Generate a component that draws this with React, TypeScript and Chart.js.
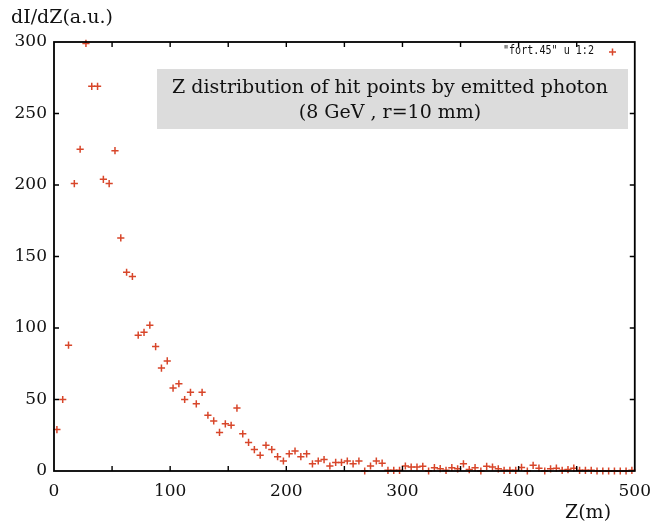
import React, { useEffect, useRef } from "react";
import { Chart, registerables } from "chart.js";

Chart.register(...registerables);

const zPositions = [
  2.5, 7.5, 12.5, 17.5, 22.5, 27.5, 32.5, 37.5, 42.5, 47.5,
  52.5, 57.5, 62.5, 67.5, 72.5, 77.5, 82.5, 87.5, 92.5, 97.5,
  102.5, 107.5, 112.5, 117.5, 122.5, 127.5, 132.5, 137.5, 142.5, 147.5,
  152.5, 157.5, 162.5, 167.5, 172.5, 177.5, 182.5, 187.5, 192.5, 197.5,
  202.5, 207.5, 212.5, 217.5, 222.5, 227.5, 232.5, 237.5, 242.5, 247.5,
  252.5, 257.5, 262.5, 267.5, 272.5, 277.5, 282.5, 287.5, 292.5, 297.5,
  302.5, 307.5, 312.5, 317.5, 322.5, 327.5, 332.5, 337.5, 342.5, 347.5,
  352.5, 357.5, 362.5, 367.5, 372.5, 377.5, 382.5, 387.5, 392.5, 397.5,
  402.5, 407.5, 412.5, 417.5, 422.5, 427.5, 432.5, 437.5, 442.5, 447.5,
  452.5, 457.5, 462.5, 467.5, 472.5, 477.5, 482.5, 487.5, 492.5, 497.5,
];

const intensity = [
  29, 50, 88, 201, 225, 299, 269, 269, 204, 201,
  224, 163, 139, 136, 95, 97, 102, 87, 72, 77,
  58, 61, 50, 55, 47, 55, 39, 35, 27, 33,
  32, 44, 26, 20, 15, 11, 18, 15, 10, 7,
  12, 14, 10, 12, 5, 7, 8, 3.5, 6, 6,
  7, 5, 7, 0, 3.5, 7, 5.5, 0.5, 0.5, 0.5,
  3.5, 2.8, 2.8, 3.3, 0, 2.3, 1.6, 0.5, 2.3, 1.5,
  5, 1, 2.3, 0, 3.3, 2.8, 1.5, 0.5, 0.5, 0.5,
  2.5, 0, 4, 2, 0, 1.5, 2, 0.5, 1, 2,
  0.5, 0.5, 0.5, 0, 0, 0, 0, 0, 0, 0.5,
];

const xTickStep = 100;
const xMinorStep = 50;
const yTickStep = 50;
const xRange = [0, 500];
const yRange = [0, 300];

const legendLabel = '"fort.45" u 1:2';
const titleLines = ["Z distribution of hit points by emitted photon", "(8 GeV , r=10 mm)"];
const yAxisTitle = "dI/dZ(a.u.)";
const xAxisTitle = "Z(m)";

const markerColor = "#d8462a";
const serif = '"DejaVu Serif", serif';

const decorPlugin = {
  id: "decor",
  beforeDatasetsDraw(chart: any) {
    const ctx = chart.ctx;
    ctx.save();
    ctx.fillStyle = "#dcdcdc";
    ctx.fillRect(157, 69, 471, 60);
    ctx.fillStyle = "#111";
    ctx.font = `19px ${serif}`;
    ctx.textAlign = "center";
    ctx.textBaseline = "middle";
    ctx.fillText(titleLines[0], 390, 88);
    ctx.fillText(titleLines[1], 390, 113);
    ctx.restore();
  },
  afterDraw(chart: any) {
    const ctx = chart.ctx;
    const { left, right, top, bottom } = chart.chartArea;
    const xs = chart.scales.x;
    const ys = chart.scales.y;
    ctx.save();
    ctx.strokeStyle = "#000";
    ctx.lineWidth = 1.8;
    ctx.strokeRect(left, top, right - left, bottom - top);
    ctx.lineWidth = 1.4;
    ctx.beginPath();
    for (let v = xRange[0] + xMinorStep; v < xRange[1]; v += xMinorStep) {
      const px = xs.getPixelForValue(v);
      ctx.moveTo(px, bottom);
      ctx.lineTo(px, bottom - 5);
      ctx.moveTo(px, top);
      ctx.lineTo(px, top + 5);
    }
    for (let v = yRange[0] + yTickStep; v < yRange[1]; v += yTickStep) {
      const py = ys.getPixelForValue(v);
      ctx.moveTo(left, py);
      ctx.lineTo(left + 5, py);
      ctx.moveTo(right, py);
      ctx.lineTo(right - 5, py);
    }
    ctx.stroke();

    // legend (condensed monospace like gnuplot's key)
    ctx.save();
    ctx.fillStyle = "#111";
    ctx.font = '12px "DejaVu Sans Mono", monospace';
    ctx.textAlign = "right";
    ctx.textBaseline = "middle";
    ctx.translate(594, 51);
    ctx.scale(0.84, 1);
    ctx.fillText(legendLabel, 0, 0);
    ctx.restore();
    ctx.strokeStyle = markerColor;
    ctx.lineWidth = 1.5;
    ctx.beginPath();
    ctx.moveTo(609, 52);
    ctx.lineTo(616, 52);
    ctx.moveTo(612.5, 48.5);
    ctx.lineTo(612.5, 55.5);
    ctx.stroke();

    // axis titles
    ctx.fillStyle = "#111";
    ctx.font = `19px ${serif}`;
    ctx.textAlign = "left";
    ctx.textBaseline = "middle";
    ctx.fillText(yAxisTitle, 11, 18);
    ctx.fillText(xAxisTitle, 565, 513);
    ctx.restore();
  },
};

export default function App() {
  const canvasRef = useRef<HTMLCanvasElement | null>(null);

  useEffect(() => {
    if (!canvasRef.current) return;
    const points = zPositions.map((z, i) => ({ x: z, y: intensity[i] }));
    const chart = new Chart(canvasRef.current, {
      type: "scatter",
      data: {
        datasets: [
          {
            data: points,
            pointStyle: "cross",
            pointRadius: 3.6,
            pointBorderWidth: 1.5,
            borderColor: markerColor,
            backgroundColor: markerColor,
            clip: false,
          } as any,
        ],
      },
      options: {
        animation: false,
        responsive: true,
        maintainAspectRatio: false,
        layout: { padding: { left: 0, top: 42, right: 23, bottom: 0 } },
        plugins: { legend: { display: false }, tooltip: { enabled: false } },
        scales: {
          x: {
            type: "linear",
            min: xRange[0],
            max: xRange[1],
            grid: { display: false, drawTicks: false },
            border: { display: false },
            ticks: {
              stepSize: xTickStep,
              padding: 10,
              color: "#111",
              font: { family: serif, size: 17 },
              maxRotation: 0,
            },
            afterFit(scale: any) {
              scale.height = 55;
            },
          },
          y: {
            type: "linear",
            min: yRange[0],
            max: yRange[1],
            grid: { display: false, drawTicks: false },
            border: { display: false },
            ticks: {
              stepSize: yTickStep,
              padding: 7,
              color: "#111",
              font: { family: serif, size: 17 },
            },
            afterFit(scale: any) {
              scale.width = 54;
            },
          },
        },
      },
      plugins: [decorPlugin],
    });
    return () => chart.destroy();
  }, []);

  return (
    <div style={{ position: "fixed", left: 0, top: 0, width: 661, height: 526, background: "#fff" }}>
      <canvas ref={canvasRef} />
    </div>
  );
}
